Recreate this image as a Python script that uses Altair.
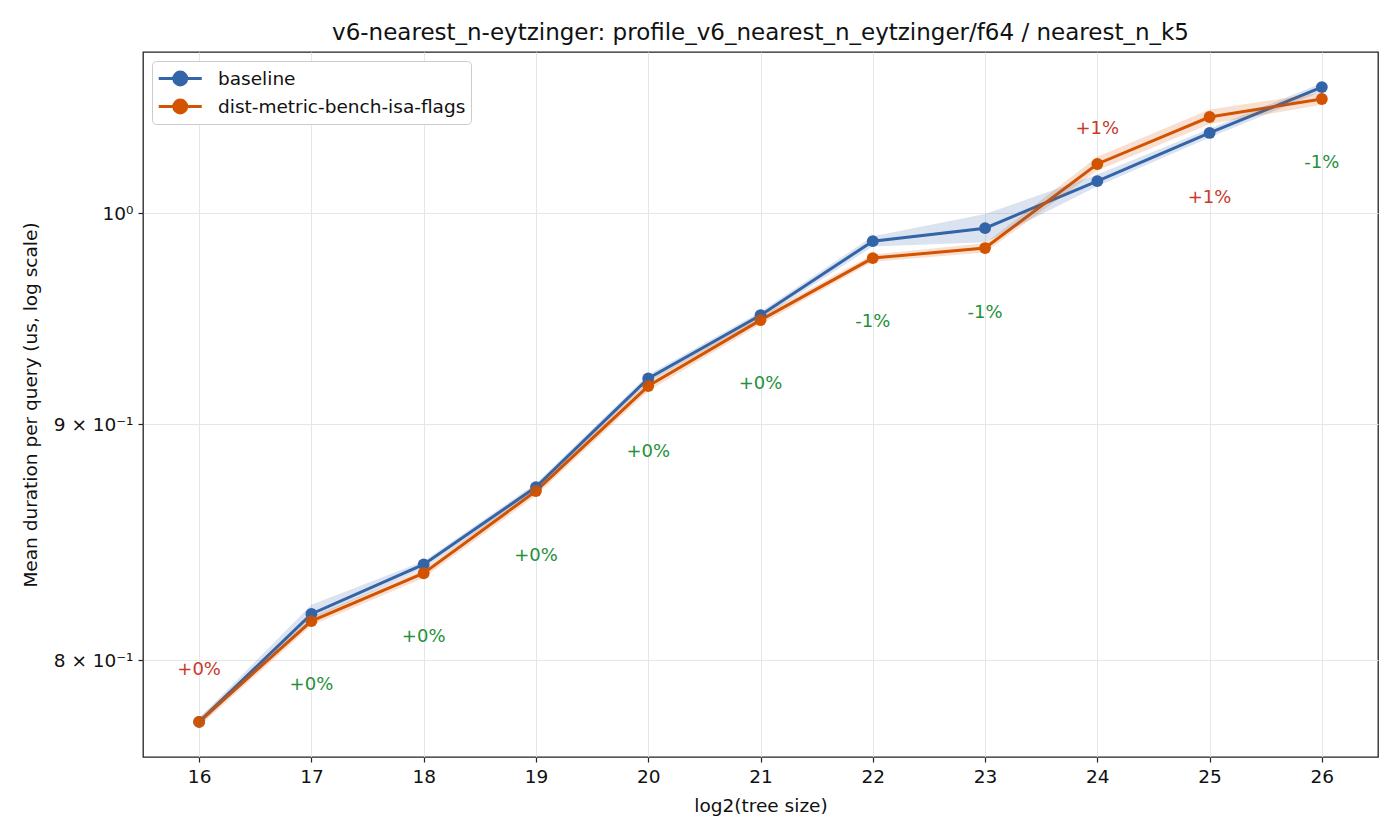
import altair as alt
import pandas as pd

x_vals = [16, 17, 18, 19, 20, 21, 22, 23, 24, 25, 26]
series_names = ["baseline", "dist-metric-bench-isa-flags"]
baseline_mean = [0.7758, 0.8187, 0.8392, 0.8722, 0.9208, 0.9503, 0.9861, 0.9925, 1.0161, 1.0408, 1.0649]
baseline_low = [0.7745, 0.8165, 0.8375, 0.8705, 0.9190, 0.9485, 0.9835, 0.9855, 1.0135, 1.0385, 1.0625]
baseline_high = [0.7772, 0.8225, 0.8405, 0.8738, 0.9225, 0.9520, 0.9885, 0.9995, 1.0195, 1.0430, 1.0670]
dist_mean = [0.7758, 0.8158, 0.8355, 0.8705, 0.9173, 0.9480, 0.9778, 0.9827, 1.0248, 1.0491, 1.0586]
dist_low = [0.7740, 0.8140, 0.8335, 0.8685, 0.9150, 0.9460, 0.9760, 0.9805, 1.0215, 1.0455, 1.0555]
dist_high = [0.7775, 0.8175, 0.8372, 0.8722, 0.9195, 0.9500, 0.9795, 0.9850, 1.0285, 1.0530, 1.0620]
delta_text = ["+0%", "+0%", "+0%", "+0%", "+0%", "+0%", "-1%", "-1%", "+1%", "+1%", "-1%"]
delta_class = ["slower", "faster", "faster", "faster", "faster", "faster", "faster", "faster", "slower", "slower", "faster"]
delta_y = [0.7961, 0.7901, 0.8092, 0.8426, 0.8878, 0.9182, 0.9470, 0.9513, 1.0428, 1.0075, 1.0253]
y_ticks = [0.8, 0.9, 1.0]

colors = ["#3465a8", "#d35400"]
FONT = "DejaVu Sans"
FS = 18.5

rows = []
for name, m, lo, hi in [(series_names[0], baseline_mean, baseline_low, baseline_high),
                        (series_names[1], dist_mean, dist_low, dist_high)]:
    for i, xv in enumerate(x_vals):
        rows.append({"x": xv, "series": name, "mean": m[i], "low": lo[i], "high": hi[i]})
df = pd.DataFrame(rows)
ann = pd.DataFrame({"x": x_vals, "text": delta_text, "cls": delta_class, "y": delta_y})

xscale = alt.Scale(domain=[15.5, 26.5], nice=False, zero=False)
yscale = alt.Scale(type="log", domain=[0.7623, 1.0837], nice=False, zero=False)
cscale = alt.Scale(domain=series_names, range=colors)

legend_path = "M-1,0L3,0M0.4,0A0.6,0.6,0,1,1,1.6,0A0.6,0.6,0,1,1,0.4,0Z"
legend = alt.Legend(title=None, orient="top-left", offset=9,
                    symbolType=legend_path, symbolSize=462, symbolOpacity=1,
                    symbolStrokeWidth=3, labelFontSize=FS, labelFont=FONT,
                    labelColor="#111", rowPadding=3, padding=5,
                    labelOffset=36,
                    strokeColor="#cccccc", fillColor="white",
                    cornerRadius=4, labelLimit=400)

base = alt.Chart(df)

line = base.mark_line(strokeWidth=3, point=alt.OverlayMarkDef(size=140, filled=True, opacity=1)).encode(
    x=alt.X("x:Q", scale=xscale,
            axis=alt.Axis(title="log2(tree size)", values=x_vals, format="d", grid=True)),
    y=alt.Y("mean:Q", scale=yscale,
            axis=alt.Axis(title="Mean duration per query (us, log scale)", values=y_ticks, grid=True,
                          labelExpr="datum.value > 0.95 ? '10⁰' : (datum.value > 0.85 ? '9 × 10⁻¹' : '8 × 10⁻¹')")),
    color=alt.Color("series:N", scale=cscale, legend=legend),
)

band = base.mark_area(opacity=0.18).encode(
    x=alt.X("x:Q", scale=xscale),
    y=alt.Y("low:Q", scale=yscale),
    y2="high:Q",
    color=alt.Color("series:N", scale=cscale, legend=legend),
    detail="series:N",
)

txt_up = alt.Chart(ann).transform_filter(alt.datum.cls == "slower").mark_text(
    fontSize=18, font=FONT, color="#c8392b", align="center", baseline="middle"
).encode(x=alt.X("x:Q", scale=xscale), y=alt.Y("y:Q", scale=yscale), text="text:N")
txt_dn = alt.Chart(ann).transform_filter(alt.datum.cls == "faster").mark_text(
    fontSize=18, font=FONT, color="#23913a", align="center", baseline="middle"
).encode(x=alt.X("x:Q", scale=xscale), y=alt.Y("y:Q", scale=yscale), text="text:N")

chart = alt.layer(line, band, txt_up, txt_dn).properties(
    width=1235, height=705,
    background="white",
    autosize=alt.AutoSizeParams(type="none"),
    padding={"left": 143, "top": 52, "right": 22, "bottom": 83},
    title=alt.Title("v6-nearest_n-eytzinger: profile_v6_nearest_n_eytzinger/f64 / nearest_n_k5",
                    fontSize=23, font=FONT, fontWeight="normal", color="#111",
                    anchor="middle", baseline="bottom", offset=11, dy=27),
).configure_view(
    stroke="#222", strokeWidth=1.3
).configure_axis(
    labelFont=FONT, titleFont=FONT, labelFontSize=FS, titleFontSize=FS,
    titleFontWeight="normal", labelColor="#111", titleColor="#111",
    domain=False, tickColor="#222", tickSize=5, tickWidth=1.2,
    gridColor="#e6e6e6", gridWidth=1, labelPadding=5,
).configure_axisX(titlePadding=11).configure_axisY(titlePadding=13)

chart.save("out.html", embed_options={"renderer": "svg", "actions": False})
